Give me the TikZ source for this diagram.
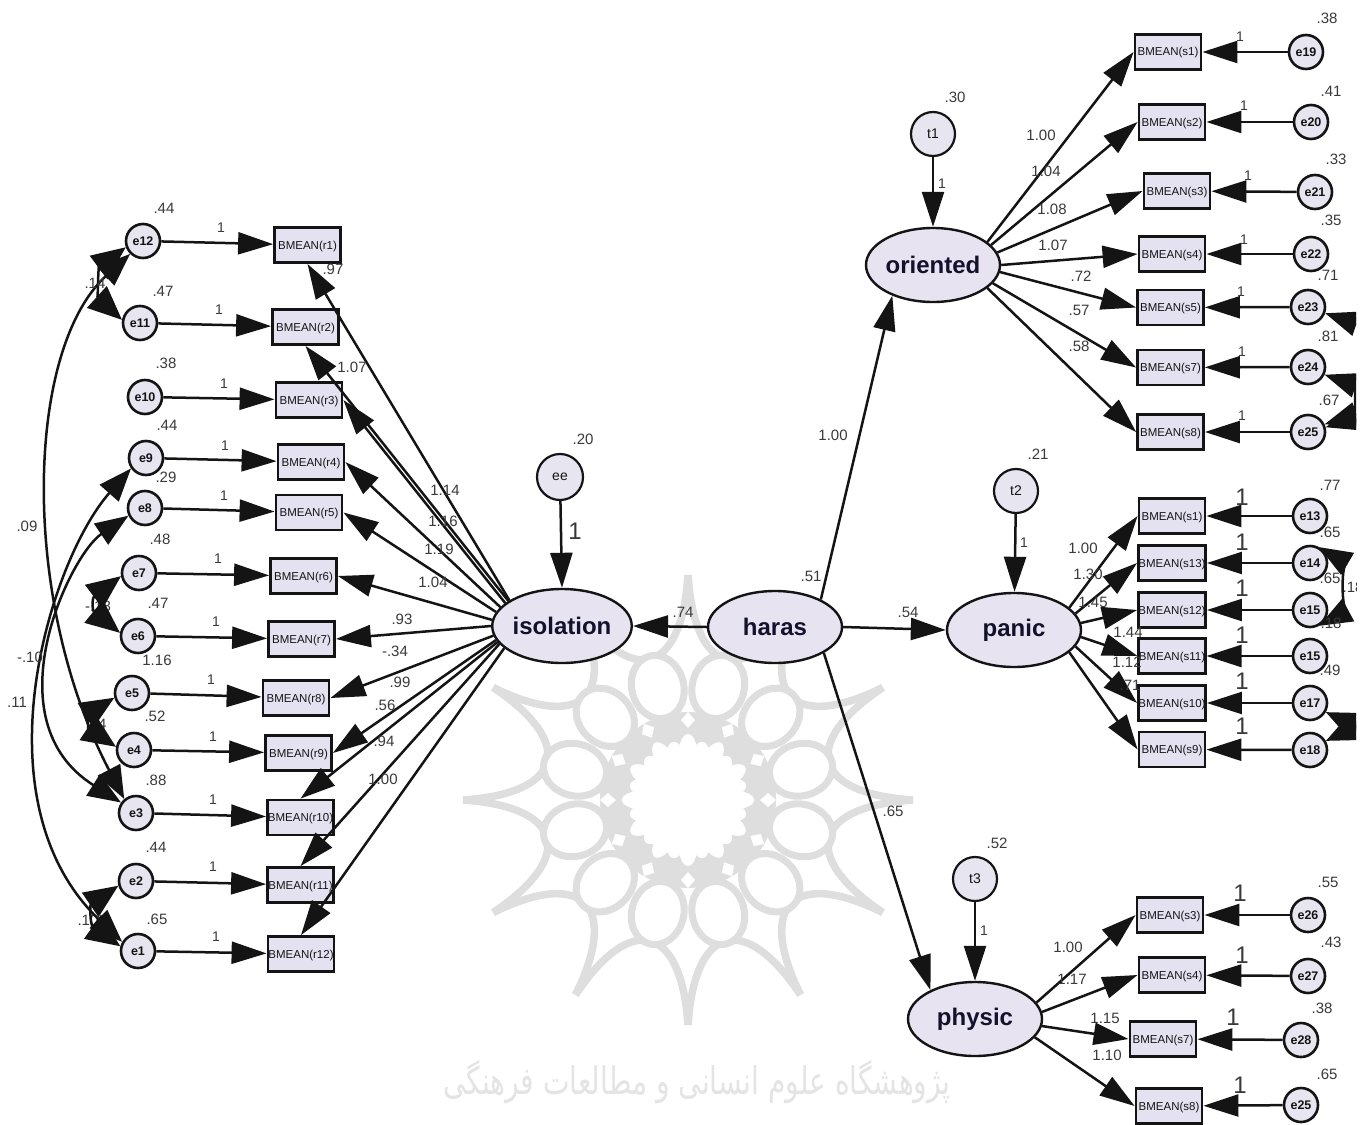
\documentclass[tikz,border=0pt]{standalone}
\usepackage{fontspec}
\usepackage{graphicx}
\setmainfont{Liberation Sans}
\newfontfamily\arabicfont[Script=Arabic]{DejaVu Sans}
\TeXXeTstate=1
\usetikzlibrary{arrows.meta,shapes.geometric}
\definecolor{ink}{HTML}{141414}
\definecolor{lab}{HTML}{3A3A3A}
\definecolor{boxfill}{HTML}{E4E1F0}
\definecolor{errfill}{HTML}{E6E5F0}
\definecolor{latfill}{HTML}{E8E3F1}
\definecolor{wmkc}{HTML}{DEDEDE}
\newcount\labn
\newcommand{\lab}[4][15]{\global\advance\labn by 1 \node[labnum,font=\fontsize{#1}{#1}\selectfont] (lab\the\labn) at (#2,#3) {#4};}
\tikzset{
  x=1pt,y=-1pt,
  labnum/.style={text=lab,inner sep=0pt},
  errnode/.style={circle,draw=ink,line width=2.6pt,fill=errfill,minimum size=34pt,inner sep=0pt,font=\bfseries\fontsize{12.5}{12.5}\selectfont,text=ink},
  resnode/.style={circle,draw=ink,line width=2.2pt,fill=errfill,minimum size=44pt,inner sep=0pt,font=\fontsize{14}{14}\selectfont,text=ink},
  obsbox/.style={rectangle,draw=ink,line width=2.8pt,fill=boxfill,minimum width=66pt,minimum height=35pt,inner sep=0pt,text height=8pt,text depth=0pt,font=\fontsize{11.5}{11.5}\selectfont,text=ink},
  latent/.style={ellipse,draw=ink,line width=2.4pt,fill=latfill,minimum width=134pt,minimum height=74pt,inner sep=0pt,font=\bfseries\fontsize{24}{24}\selectfont,text=ink!90!blue},
  path1/.style={draw=ink,line width=2.5pt,-{Triangle[length=35pt,width=22pt]}},
  cov/.style={draw=ink,line width=2.5pt,{Triangle[length=33pt,width=25pt]}-{Triangle[length=33pt,width=25pt]}},
  covshort/.style={draw=ink,line width=2.5pt,{Triangle[length=34pt,width=29pt]}-{Triangle[length=34pt,width=29pt]}},
  wmk/.style={draw=wmkc,line width=7pt},
}
\begin{document}
\begin{tikzpicture}
\useasboundingbox (0,0) rectangle (1362,1124);
\fill[white] (0,0) rectangle (1362,1124);
% watermark
\begin{scope}[shift={(688,800)}]
  \foreach \a in {0,30,...,330}{
    \draw[draw=wmkc,line width=7.5pt,miter limit=30]
      (\a:225) .. controls ({\a+3}:125) and ({\a+27}:125) .. ({\a+30}:225);
  }
  \fill[wmkc] (0,0) circle (88);
  \foreach \a in {15,45,...,345}{
    \draw[wmk,fill=white,rotate=\a] (117,0) ellipse (32 and 26);
  }
  \foreach \a in {0,30,...,330}{
    \fill[white,rotate=\a] (72,0) -- (80,-7) -- (88,0) -- (80,7) -- cycle;
    \fill[white,rotate=\a] (42,0) ellipse (24 and 10);
    \fill[white,rotate=\a+15] (38,0) ellipse (22 and 10);
  }
  \fill[white] (0,0) circle (38);
\end{scope}
\node[text=wmkc!80!white,inner sep=0pt,font=\arabicfont\fontsize{38}{38}\selectfont] (wmtext) at (697,1082) {\scalebox{0.74}[1]{\beginR پژوهشگاه علوم انسانی و مطالعات فرهنگی\endR}};

\begin{scope}
\clip (0,0) rectangle (1356,1124);

% latent variables
\node[latent] (isolation) at (562,626) {isolation};
\node[latent,minimum height=72pt] (haras) at (775,627) {haras};
\node[latent] (oriented) at (933,265) {oriented};
\node[latent] (panic) at (1014,630) {panic};
\node[latent] (physic) at (975,1019) {physic};
\node[resnode,minimum size=46pt] (ee) at (560,477) {ee};
\node[resnode] (t1) at (933,134) {t1};
\node[resnode] (t2) at (1016,491) {t2};
\node[resnode] (t3) at (975,879) {t3};

% observed boxes
\foreach \n/\x/\y/\t in {
 r1/307.5/245/r1, r2/305.5/327/r2, r3/309/400/r3, r4/311/462/r4, r5/309/512.5/r5, r6/303.5/576/r6,
 r7/301.5/639/r7, r8/296/698/r8, r9/298.5/753/r9, r10/300.5/817.5/r10, r11/300.5/885/r11, r12/301/954/r12,
 a1/1168/52/s1, a2/1172/122/s2, a3/1177/191/s3, a4/1172/254/s4, a5/1170.5/307.5/s5, a7/1170.5/367.5/s7, a8/1170.5/432/s8,
 b1/1172/516/s1, b13/1172/563/s13, b12/1172/610/s12, b11/1172/656/s11, b10/1172/703/s10, b9/1172/749.5/s9,
 c3/1170/915/s3, c4/1172/975/s4, c7/1163/1039/s7, c8/1169/1106/s8}{
  \node[obsbox] (\n) at (\x,\y) {BMEAN(\t)};
}

% error terms
\foreach \n/\x/\y/\t in {
 e12/143/241/e12, e11/140/323/e11, e10/145/397/e10, e9/146/458/e9, e8/145/508/e8, e7/139/573/e7,
 e6/138/636/e6, e5/132/693/e5, e4/134/750/e4, e3/136/813/e3, e2/136/881/e2, e1/138/951/e1,
 e19/1306/52/e19, e20/1311/122/e20, e21/1315/192/e21, e22/1311/254/e22, e23/1308/307/e23, e24/1308/367/e24, e25/1308/432/e25,
 e13/1310/516/e13, e14/1310/563/e14, e15/1310/610/e15, e15b/1310/656/e15, e17/1310/703/e17, e18/1310/750/e18,
 e26/1308/915/e26, e27/1308/976/e27, e28/1301/1040/e28, e25b/1301/1105/e25}{
  \node[errnode] (\n) at (\x,\y) {\t};
}

% error -> indicator paths
\foreach \e/\b in {e12/r1,e11/r2,e10/r3,e9/r4,e8/r5,e7/r6,e6/r7,e5/r8,e4/r9,e3/r10,e2/r11,e1/r12,
 e19/a1,e20/a2,e21/a3,e22/a4,e23/a5,e24/a7,e25/a8,
 e13/b1,e14/b13,e15/b12,e15b/b11,e17/b10,e18/b9,
 e26/c3,e27/c4,e28/c7,e25b/c8}{
  \draw[path1] (\e) -- (\b);
}

% loadings of isolation
\foreach \b/\a/\tgt in {r1/154/south,r2/155/south,r3/158/east,r4/163/east,r5/168/east,r6/175/east,r7/180/east,r8/188/east,r9/192/east,r10/194/north,r11/196/north,r12/201/north}{
  \draw[path1] (isolation.\a) -- (\b.\tgt);
}
% loadings of oriented
\foreach \b/\a in {a1/23,a2/19,a3/11,a4/0,a5/-6,a7/-17,a8/-23}{
  \draw[path1] (oriented.\a) -- (\b.west);
}
% loadings of panic
\foreach \b/\a in {b1/22,b13/15,b12/6,b11/-6,b10/-15,b9/-22}{
  \draw[path1] (panic.\a) -- (\b.west);
}
% loadings of physic
\foreach \b/\a in {c3/15,c4/6,c7/-6,c8/-17}{
  \draw[path1] (physic.\a) -- (\b.west);
}

% structural paths
\draw[path1] (haras.west) -- (isolation.east);
\draw[path1] (haras.east) -- (panic.west);
\draw[path1] (haras.31) -- (oriented.217);
\draw[path1] (haras.332) -- (physic.147);
\draw[path1] (ee) -- (isolation.north);
\draw[path1] (t1) -- (oriented);
\draw[path1] (t2) -- (panic);
\draw[path1] (t3) -- (physic);

% labels partly hidden under the arrowheads
\lab{98}{606}{-.18}
\lab{96}{724}{.44}
\lab{88}{920}{.10}
\lab{1345}{726}{.24}

% covariances
\draw[covshort] (e12.200) .. controls (98,268) and (98,298) .. (e11.170);
\draw[covshort] (e7.190) .. controls (92,598) and (92,610) .. (e6.170);
\draw[covshort] (e5.195) .. controls (88,714) and (88,728) .. (e4.170);
\draw[covshort] (e2.195) .. controls (90,905) and (90,925) .. (e1.165);
\draw[cov] (e12.225) .. controls (25,350) and (20,600) .. (e3.130);
\draw[cov] (e8.205) .. controls (70,555) and (-10,720) .. (e3.145);
\draw[cov] (e9.215) .. controls (50,560) and (-25,800) .. (e1.150);
\draw[cov] (e23.-20) .. controls (1375,330) and (1385,410) .. (e25.15);
\draw[cov] (e24.-25) .. controls (1355,385) and (1355,415) .. (e25.25);
\draw[cov] (e14.60) .. controls (1341,560) and (1341,614) .. (e15.-60);
\draw[covshort] (e17.-30) .. controls (1347,722) and (1347,731) .. (e18.30);

% variance labels, left
\lab{164}{208}{.44}\lab{163}{291}{.47}\lab{166}{363}{.38}\lab{167}{425}{.44}\lab{166}{477}{.29}\lab{160}{539}{.48}
\lab{158}{603}{.47}\lab{157}{660}{1.16}\lab{155}{716}{.52}\lab{156}{780}{.88}\lab{156}{847}{.44}\lab{157}{919}{.65}
% unit weights, left
\lab[14]{221}{228}{1}\lab[14]{219}{310}{1}\lab[14]{224}{384}{1}\lab[14]{225}{446}{1}\lab[14]{224}{496}{1}\lab[14]{218}{559}{1}
\lab[14]{216}{622}{1}\lab[14]{211}{680}{1}\lab[14]{213}{737}{1}\lab[14]{213}{800}{1}\lab[14]{213}{867}{1}\lab[14]{216}{937}{1}
% isolation loadings
\lab{333}{269}{.97}\lab{352}{367}{1.07}\lab{445}{490}{1.14}\lab{443}{521}{1.16}\lab{439}{549}{1.19}\lab{433}{582}{1.04}
\lab{402}{619}{.93}\lab{395}{651}{-.34}\lab{400}{682}{.99}\lab{385}{705}{.56}\lab{384}{741}{.94}\lab{383}{779}{1.00}
% covariances, left
\lab{95}{283}{.14}\lab{27}{526}{.09}\lab{30}{657}{-.10}\lab{17}{702}{.11}
% oriented block
\lab{1327}{18}{.38}\lab{1331}{91}{.41}\lab{1336}{159}{.33}\lab{1331}{220}{.35}\lab{1328}{275}{.71}\lab{1328}{336}{.81}\lab{1329}{400}{.67}
\lab[14]{1240}{37}{1}\lab[14]{1244}{106}{1}\lab[14]{1248}{176}{1}\lab[14]{1244}{240}{1}\lab[14]{1241}{292}{1}\lab[14]{1242}{352}{1}\lab[14]{1242}{416}{1}
\lab{1041}{135}{1.00}\lab{1046}{171}{1.04}\lab{1052}{209}{1.08}\lab{1053}{245}{1.07}\lab{1081}{276}{.72}\lab{1079}{310}{.57}\lab{1079}{346}{.58}
% panic block
\lab{1330}{485}{.77}\lab{1330}{532}{.65}\lab{1330}{578}{.65}\lab{1353}{587}{.18}\lab{1331}{623}{.18}\lab{1330}{670}{.49}
\lab[24]{1242}{497}{1}\lab[24]{1242}{542}{1}\lab[24]{1242}{588}{1}\lab[24]{1242}{635}{1}\lab[24]{1242}{681}{1}\lab[24]{1242}{726}{1}
\lab{1083}{548}{1.00}\lab{1088}{574}{1.30}\lab{1093}{602}{1.45}\lab{1128}{632}{1.44}\lab{1127}{662}{1.12}\lab{1130}{685}{.71}
% physic block
\lab{1328}{882}{.55}\lab{1331}{942}{.43}\lab{1322}{1008}{.38}\lab{1327}{1074}{.65}
\lab[24]{1240}{893}{1}\lab[24]{1242}{955}{1}\lab[24]{1233}{1017}{1}\lab[24]{1240}{1085}{1}
\lab{1068}{947}{1.00}\lab{1072}{979}{1.17}\lab{1105}{1018}{1.15}\lab{1107}{1055}{1.10}
% structural labels
\lab{811}{576}{.51}\lab{833}{435}{1.00}\lab{683}{612}{.74}\lab{908}{612}{.54}\lab{893}{811}{.65}
\lab{583}{439}{.20}\lab[24]{575}{531}{1}
\lab{955}{97}{.30}\lab[14]{942}{184}{1}
\lab{1038}{454}{.21}\lab[14]{1024}{543}{1}
\lab{997}{843}{.52}\lab[14]{984}{931}{1}
\end{scope}
\end{tikzpicture}
\end{document}
